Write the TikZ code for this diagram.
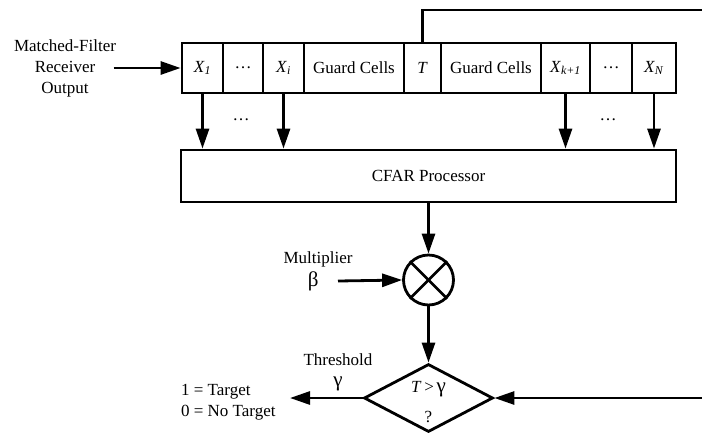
\documentclass[tikz,border=0pt]{standalone}
\usepackage{fontspec}
\setmainfont{Liberation Serif}
\usetikzlibrary{arrows.meta,shapes.geometric}
\newcommand{\xcell}[1]{\textit{X}\textsubscript{\textit{#1}}}
\newcommand{\grk}[1]{{\fontsize{21}{21}\selectfont #1}}

\begin{document}
\begin{tikzpicture}[x=1pt,y=-1pt,
  font=\fontsize{17}{21}\selectfont,
  line width=2.8pt,
  cell/.style={draw,minimum height=50pt,inner sep=0pt},
  arr/.style={-{Triangle[length=20pt,width=13pt]}}]
% Limites de la figure
\useasboundingbox (0,0) rectangle (702,432);
\def\yrow{68}

% Entrée du filtre adapté
\node[align=center] (mf) at (65,\yrow) {Matched-Filter\\Receiver\\Output};

% Cellules de la fenêtre
\node[cell,minimum width=41pt] (x1) at (202.5,\yrow) {\xcell{1}};
\node[cell,minimum width=40pt] (d1) at (243,\yrow) {\dots};
\node[cell,minimum width=41pt] (xi) at (283.5,\yrow) {\xcell{i}};
\node[cell,minimum width=100pt] (g1) at (354,\yrow) {Guard Cells};
\node[cell,minimum width=37pt] (t) at (422.5,\yrow) {\textit{T}};
\node[cell,minimum width=100pt] (g2) at (491,\yrow) {Guard Cells};
\node[cell,minimum width=49pt] (xk) at (565.5,\yrow) {\xcell{k+1}};
\node[cell,minimum width=42pt] (d2) at (611,\yrow) {\dots};
\node[cell,minimum width=44pt] (xn) at (654,\yrow) {\xcell{N}};

\draw[arr] ([xshift=-7pt]mf.east) -- (x1.west);

% Processeur CFAR
\node[draw,minimum width=495pt,minimum height=52pt] (cfar) at (428.5,176) {CFAR Processor};
\foreach \c in {x1,xi,xk,xn}
  \draw[arr] (\c.south) -- (\c.south |- cfar.north);
\node (dotsa) at (241,120) {\dots};
\node (dotsb) at (608,120) {\dots};

% Multiplicateur
\node[draw,circle,minimum size=50pt,inner sep=0pt] (mul) at (428.5,280) {};
\draw (mul.north west) -- (mul.south east);
\draw (mul.north east) -- (mul.south west);
\draw[arr] (cfar.south) -- (mul.north);
\node (multlbl) at (318,259) {Multiplier};
\node[anchor=east,inner xsep=18pt] (beta) at (338,281) {\grk{β}};
\draw[arr] (beta.east) -- (mul.west);

% Test du seuil
\node[draw,diamond,minimum width=129pt,minimum height=68pt,inner sep=0pt] (dec) at (428.5,398) {};
\node (cond) at (428.5,389) {\textit{T}\,>\,\grk{γ}};
\node (qmark) at (428.5,417) {?};
\draw[arr] (mul.south) -- (dec.north);
\node[align=center] (thr) at (338,372) {Threshold\\\grk{γ}};
\node[anchor=east,align=left,inner xsep=13pt] (out) at (290,402) {1 = Target\\0 = No Target};
\draw[arr] (dec.west) -- (out.east |- dec.west);

% Retour de la cellule T
\coordinate (fbtop) at (712,10);
\draw[arr] (t.north) |- (fbtop) |- (dec.east);

\end{tikzpicture}
\end{document}
